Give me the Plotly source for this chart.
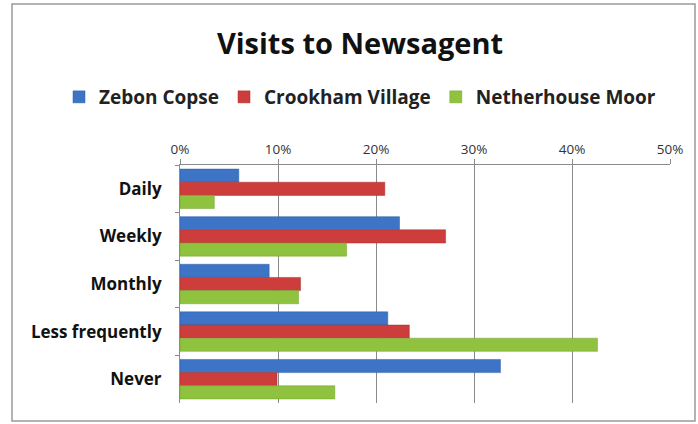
import plotly.graph_objects as go

categories = ["Daily", "Weekly", "Monthly", "Less frequently", "Never"]
zebon_copse = [0.060, 0.224, 0.091, 0.212, 0.327]
crookham_village = [0.209, 0.271, 0.123, 0.234, 0.099]
netherhouse_moor = [0.035, 0.170, 0.121, 0.426, 0.158]
series_names = ["Zebon Copse", "Crookham Village", "Netherhouse Moor"]
tick_values = [0, 0.1, 0.2, 0.3, 0.4, 0.5]
tick_labels = ["0%", "10%", "20%", "30%", "40%", "50%"]

colors = ["#3d74c6", "#cc3d3b", "#8fc23f"]
edge = ["#2f5fa8", "#a8302e", "#74a32f"]

fig = go.Figure()
for name, vals, c, e in zip(series_names, [zebon_copse, crookham_village, netherhouse_moor], colors, edge):
    fig.add_trace(go.Bar(
        name=name, y=categories, x=vals, orientation="h",
        marker=dict(color=c, line=dict(color=e, width=0.5)),
    ))

L, R, T, B = 180, 28, 165, 21
W, H = 698, 424
pw, ph = W - L - R, H - T - B

def px_x(x):
    return (x - L) / pw

def px_y(y):
    return (H - B - y) / ph

FONT = "'Open Sans', Lato, sans-serif"

fig.update_layout(
    width=W, height=H,
    margin=dict(l=L, r=R, t=T, b=B, autoexpand=False),
    paper_bgcolor="white", plot_bgcolor="white",
    barmode="group", bargap=0.17, bargroupgap=0,
    font=dict(family=FONT, color="#1a1a1a"),
    title=dict(text="<b>Visits to Newsagent</b>", x=360 / W, xref="container", xanchor="center",
               y=1 - 44 / H, yref="container", yanchor="middle",
               font=dict(size=29, color="#111", family=FONT)),
    legend=dict(orientation="h", x=px_x(59), xref="paper", xanchor="left",
                y=px_y(97), yref="paper", yanchor="middle",
                font=dict(size=19, color="#222", weight="bold", family=FONT),
                itemwidth=30, traceorder="normal", bgcolor="rgba(0,0,0,0)"),
    xaxis=dict(side="top", range=[0, 0.5], tickvals=tick_values, ticktext=tick_labels,
               showgrid=True, gridcolor="#8a8a8a", gridwidth=1,
               showline=True, linecolor="#8a8a8a", linewidth=1,
               ticks="outside", ticklen=5, tickcolor="#8a8a8a",
               tickfont=dict(size=13.5, color="#333", family=FONT), zeroline=False,
               fixedrange=True, automargin=False),
    yaxis=dict(autorange="reversed", showline=True, linecolor="#8a8a8a", linewidth=1,
               ticks="outside", ticklen=4, tickcolor="#8a8a8a", tickson="boundaries",
               tickfont=dict(size=17, color="#111", weight="bold", family=FONT),
               ticklabelstandoff=14,
               showgrid=False, fixedrange=True, automargin=False),
    showlegend=True,
)

# chart frame
fig.add_shape(type="rect", xref="paper", yref="paper",
              x0=px_x(12), x1=px_x(695), y0=px_y(421), y1=px_y(4),
              line=dict(color="#9a9a9a", width=1.5), layer="below")

fig.write_html("out.html", post_script="document.body.style.margin='0';",
               config={"displayModeBar": False})
